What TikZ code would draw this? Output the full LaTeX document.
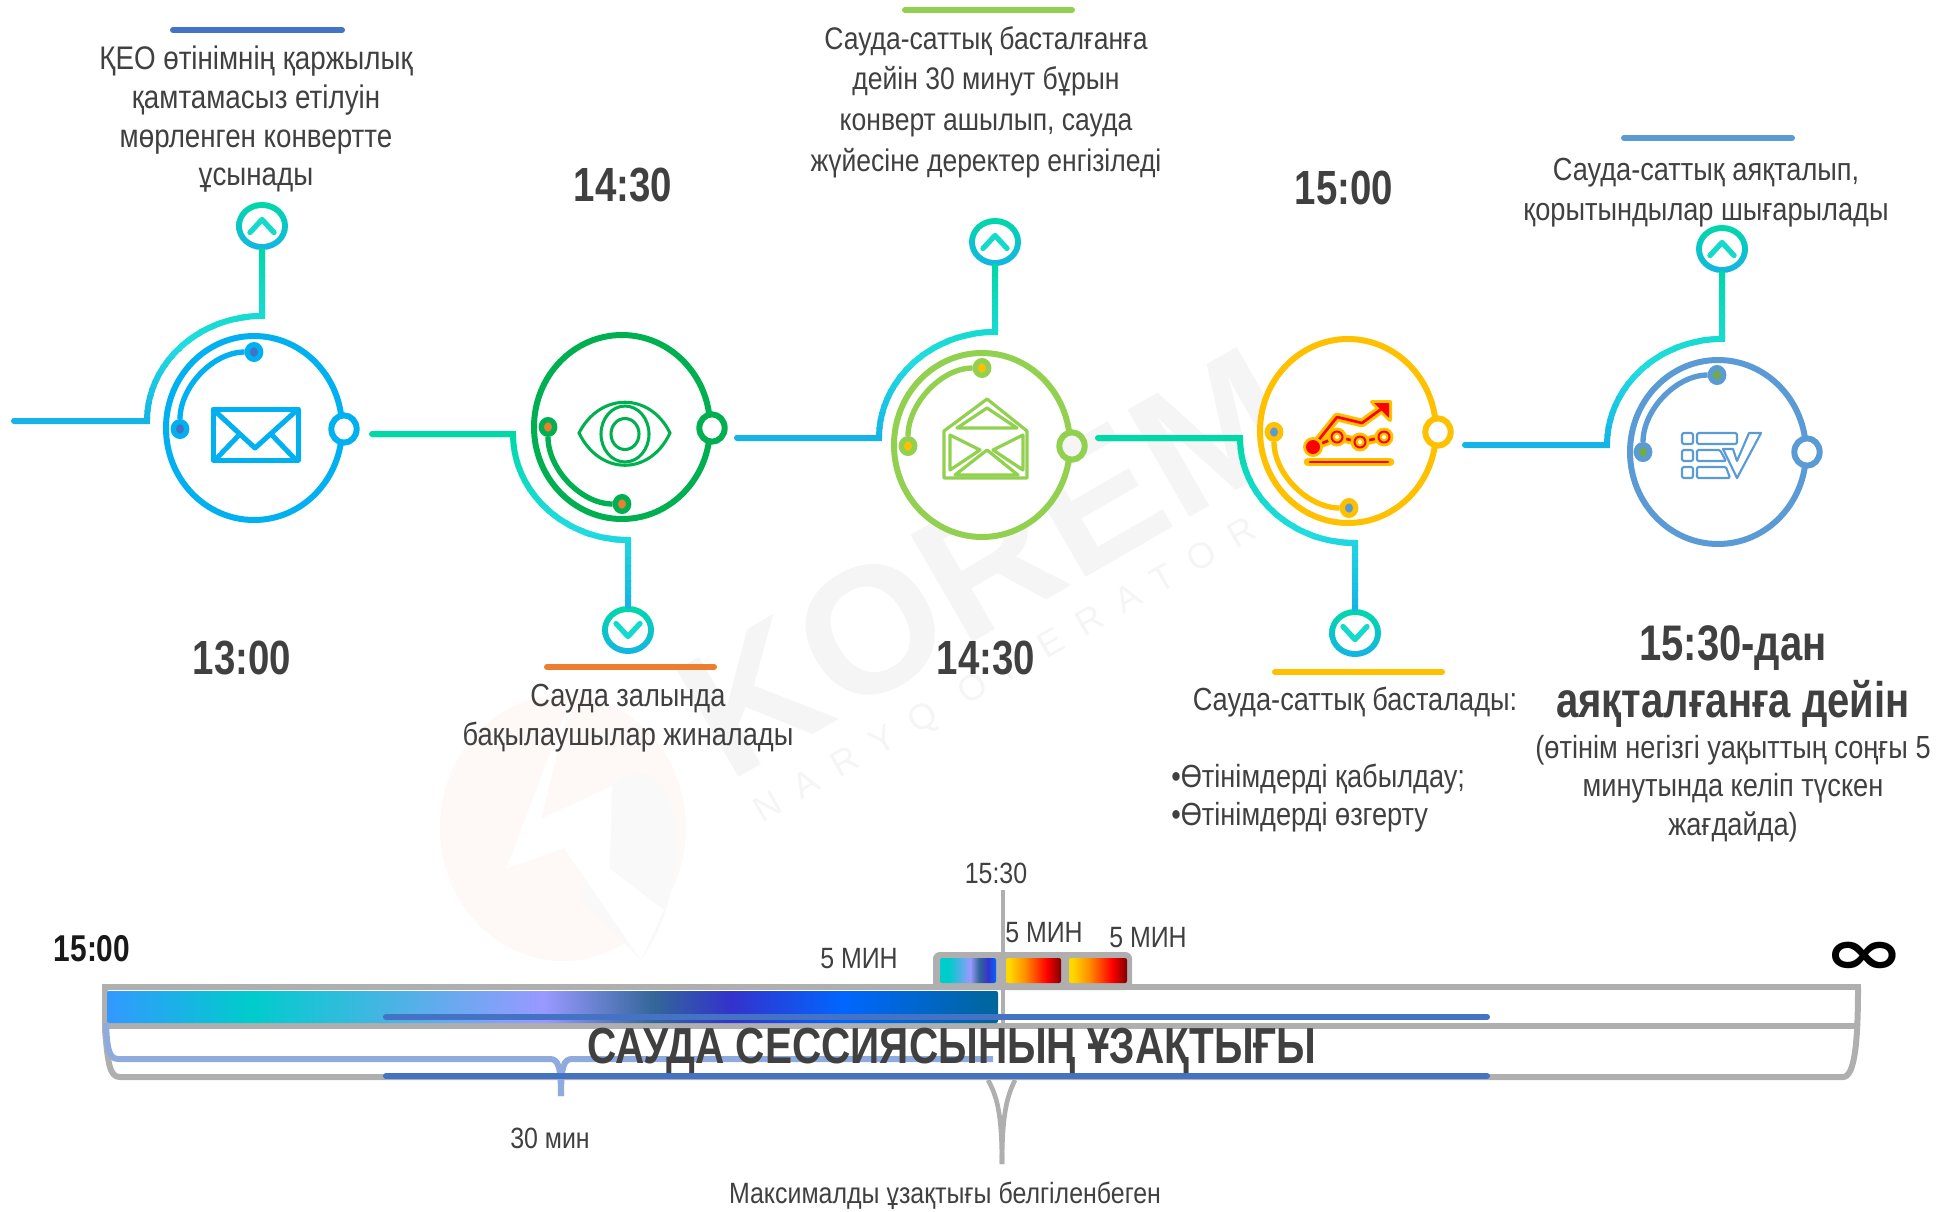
\documentclass[tikz,border=0pt]{standalone}
\usepackage{fontspec}
\setmainfont{Liberation Sans}[FakeStretch=0.85,BoldFeatures={FakeStretch=0.8}]
\newfontfamily\markfont{Liberation Sans}
\newfontfamily\symfont{DejaVu Sans}
\usetikzlibrary{shapes.geometric}

\definecolor{inktext}{HTML}{404040}
\definecolor{framegray}{HTML}{AFAFAF}
\definecolor{barblue}{HTML}{4472C4}
\definecolor{paleblue}{HTML}{8FAADC}
\definecolor{linktop}{HTML}{00D8A8}
\definecolor{linkmid}{HTML}{20DCE0}
\definecolor{linkbot}{HTML}{14B4E6}
\definecolor{markgray}{HTML}{F5F5F5}
\definecolor{logopink}{HTML}{FEF8F6}
\definecolor{logogray}{HTML}{F9F9F9}
\definecolor{ringblue}{HTML}{00B0F0}
\definecolor{ringgreen}{HTML}{00B050}
\definecolor{ringlime}{HTML}{92D050}
\definecolor{ringamber}{HTML}{FFC000}
\definecolor{ringsteel}{HTML}{5B9BD5}
\definecolor{barorange}{HTML}{ED7D31}
\definecolor{s1}{HTML}{3399FF}
\definecolor{s2}{HTML}{00CCCC}
\definecolor{s3}{HTML}{9999FF}
\definecolor{s4}{HTML}{336699}
\definecolor{s5}{HTML}{3333CC}
\definecolor{s6}{HTML}{0066FF}
\definecolor{s7}{HTML}{006699}
\definecolor{h1}{HTML}{FFD700}
\definecolor{h2}{HTML}{FF9000}
\definecolor{h3}{HTML}{FF0000}
\definecolor{h4}{HTML}{800000}

\pgfdeclarehorizontalshading{sessionshade}{100bp}{
	color(0bp)=(s1);color(25bp)=(s1);color(33.1bp)=(s2);color(49.5bp)=(s3);
	color(55.7bp)=(s4);color(60bp)=(s5);color(66.3bp)=(s6);color(75bp)=(s7);color(100bp)=(s7)}
\pgfdeclarehorizontalshading{preshade}{100bp}{
	color(0bp)=(s2);color(33bp)=(s2);color(52bp)=(s3);color(60bp)=(s4);
	color(68bp)=(s5);color(75bp)=(s6);color(100bp)=(s6)}
\pgfdeclarehorizontalshading{hotshade}{100bp}{
	color(0bp)=(h1);color(28bp)=(h1);color(42bp)=(h2);color(62bp)=(h3);color(75bp)=(h4);color(100bp)=(h4)}

\newcommand{\gradlink}[3]{%
	\foreach \k in {0,...,23} {
		\pgfmathsetmacro{\ya}{#2-4+(#3-#2+8)*\k/24}
		\pgfmathsetmacro{\yb}{#2-4+(#3-#2+8)*(\k+1)/24+1}
		\pgfmathsetmacro{\pa}{min(100,\k/23/0.55*100)}
		\pgfmathsetmacro{\pb}{100-max(0,(\k/23-0.55)/0.45*100)}
		\colorlet{slicecol}{linkmid!\pa!linktop!\pb!linkbot}
		\begin{scope}
			\clip (0,\ya) rectangle (1937,\yb);
			\draw[linkline,slicecol] #1;
		\end{scope}
	}
}

\tikzset{
	linkline/.style={line width=4.5pt,line cap=round},
	bigring/.style={ellipse,draw=#1,fill=white,line width=4.5pt,minimum width=132pt,minimum height=138pt,inner sep=0pt},
	dotmark/.style 2 args={ellipse,draw=#1,fill=#2,line width=4pt,minimum width=10pt,minimum height=11pt,inner sep=0pt},
	endring/.style 2 args={ellipse,draw=#1,fill=#2,line width=4.5pt,minimum width=19pt,minimum height=20.5pt,inner sep=0pt},
	arcline/.style={draw=#1,line width=4pt},
	chevring/.style={ellipse,inner sep=0pt,minimum width=39pt,minimum height=36pt,top color=linktop,middle color=linkmid,bottom color=linkbot},
	chevhole/.style={ellipse,inner sep=0pt,minimum width=30pt,minimum height=27pt,fill=white},
	accentbar/.style={draw=#1,line width=4.5pt,line cap=round},
	framebar/.style={draw=framegray,line width=4.5pt},
	bluebar/.style={draw=barblue,line width=4.5pt,line cap=round},
	lbl/.style={text=inktext,align=center,inner sep=0pt,font=\fontsize{24}{29}\selectfont},
	lblsmall/.style={lbl,font=\fontsize{22}{29}\selectfont},
	timebig/.style={text=inktext,align=center,inner sep=0pt,font=\fontsize{36}{43}\selectfont\bfseries},
}

\begin{document}
\begin{tikzpicture}[x=0.75pt,y=-0.75pt]
	\useasboundingbox (0,0) rectangle (1937,1211);

	\fill[logopink] (563,828) ellipse[x radius=123,y radius=133];
	\fill[logogray] (612,786) .. controls (680,730) and (700,880) .. (641,960) -- (580,900) -- cycle;
	\fill[white] (572,695) -- (506,869) -- (564,848) -- (641,960) -- (664,910) -- (610,869) -- (612,786) -- (541,819) -- cycle;
	\node[rotate=30,inner sep=0pt,text=markgray,font=\markfont\fontsize{135}{135}\selectfont\bfseries] (markmain) at (988,562) {KOREM};
	\node[rotate=30,inner sep=0pt,text=markgray,font=\markfont\fontsize{27}{27}\selectfont\addfontfeature{LetterSpace=55}] (marksub) at (1006,672) {NARYQ OPERATOR};

	\foreach \n/\cx/\cy/\s in {1/262/226/1,2/628/630/-1,3/995/242/1,4/1355/633/-1,5/1722/249/1} {
		\node[chevring] (chev\n) at (\cx,\cy) {};
		\node[chevhole] (hole\n) at (\cx,\cy) {};
		\draw[line width=4pt,line cap=round,line join=round,draw=linkmid!60!linktop] (\cx-12,\cy+6.5*\s) -- ++(12,-13*\s) -- ++(12,13*\s);
	}

	\foreach \n/\sx/\sy/\kx/\ex/\ey/\ytop/\ybot in {
		1/14/421/147/262/316/250/421,
		2/372/434/513/628/540/434/606,
		3/737/438/879/995/332/266/438,
		4/1098/438/1240/1355/543/438/609,
		5/1465/445/1607/1722/339/273/445} {
		\pgfmathsetmacro{\bx}{0.55*(\ex-\kx)}
		\pgfmathsetmacro{\by}{0.55*(\ey-\sy)}
		\coordinate (ls\n) at (\sx,\sy);
		\coordinate (lk\n) at (\kx,\sy);
		\coordinate (le\n) at (\ex,\ey);
		\gradlink{(ls\n) -- (lk\n) .. controls +(0,\by) and +(-\bx,0) .. (le\n) -- (chev\n)}{\ytop}{\ybot}
	}

	\foreach \n/\cx/\cy/\rc/\dc/\hc/\ax/\ay/\bx/\by/\s/\rx/\ry in {
		1/254/428/00B0F0/4472C4/FFFFFF/180/429/254/352/-1/344/429,
		2/622/427/00B050/ED7D31/FFFFFF/548/427/622/504/1/712/428,
		3/982/445/92D050/FFC000/F5F5F5/908/446/982/368/-1/1072/446,
		4/1348/431/FFC000/5B9BD5/FFFFFF/1274/432/1349/508/1/1438/432,
		5/1718/452/5B9BD5/70AD47/FFFFFF/1643/452/1717/375/-1/1807/452} {
		\definecolor{ringcol}{HTML}{\rc}
		\definecolor{dotcol}{HTML}{\dc}
		\definecolor{holecol}{HTML}{\hc}
		\node[bigring=ringcol] (ring\n) at (\cx,\cy) {};
		\node[dotmark={ringcol}{dotcol}] (dota\n) at (\ax,\ay) {};
		\node[dotmark={ringcol}{dotcol}] (dotb\n) at (\bx,\by) {};
		\node[endring={ringcol}{holecol}] (end\n) at (\rx,\ry) {};
		\draw[arcline=ringcol] (dota\n) .. controls +(0,\s*42) and +(-41,0) .. (dotb\n);
	}

	% envelope
	\draw[ringblue,line width=3.75pt,line join=round] (213,409) rectangle (298,460);
	\draw[ringblue,line width=3.75pt,line cap=round,line join=round] (215,411) -- (255,448) -- (296,411);
	\draw[ringblue,line width=3.75pt] (216,459) -- (241,433) (295,459) -- (270,433);

	% eye
	\draw[ringgreen,line width=2.3pt] (579,433) .. controls (600,392) and (650,392) .. (670,433) .. controls (650,476) and (600,476) .. cycle;
	\draw[ringgreen,line width=2.3pt] (625,434) ellipse[x radius=24,y radius=28];
	\draw[ringgreen,line width=2.3pt] (625,434) ellipse[x radius=14,y radius=15.5];

	% open envelope
	\begin{scope}[line width=2.4pt,line join=round]
		\draw[ringlime] (987,399) -- (944,431) -- (944,478) -- (1027,478) -- (1027,431) -- cycle;
		\draw[ringlime] (987,408) -- (957,428) -- (1017,428) -- cycle;
		\draw[ringlime] (950,435) -- (950,470) -- (980,450) -- cycle;
		\draw[ringlime] (1023,435) -- (1023,470) -- (993,450) -- cycle;
		\draw[ringlime] (987,450) -- (955,475) -- (1018,475) -- cycle;
	\end{scope}

	% chart
	\begin{scope}[line cap=round,line join=round]
		\draw[ringamber,line width=6.5pt] (1308,462) -- (1390,462);
		\draw[red,line width=2pt] (1310,462) -- (1388,462);
		\draw[ringamber,line width=6.5pt] (1313,447) -- (1337,417) -- (1362,423) -- (1384,407);
		\draw[ringamber,line width=6.5pt] (1313,447) -- (1337,437) -- (1360,442) -- (1384,437);
		\fill[ringamber,draw=ringamber,line width=3pt] (1372,402) -- (1390,402) -- (1390,420) -- cycle;
		\fill[red] (1374,403) -- (1389,403) -- (1389,418) -- cycle;
		\draw[red,line width=2pt] (1313,447) -- (1337,417) -- (1362,423) -- (1384,407);
		\draw[red,line width=2pt] (1313,447) -- (1337,437) -- (1360,442) -- (1384,437);
		\fill[ringamber] (1313,447) circle[radius=10];
		\fill[red] (1313,447) circle[radius=7];
		\foreach \px/\py in {1337/437,1360/442,1384/437} {
			\fill[ringamber] (\px,\py) circle[radius=9.5];
			\fill[red] (\px,\py) circle[radius=6.5];
			\fill[ringamber] (\px,\py) circle[radius=4.5];
			\fill[white] (\px,\py) circle[radius=2];
		}
	\end{scope}

	% checklist
	\begin{scope}[ringsteel,line width=1.6pt,line join=round]
		\foreach \yy in {433,450,467} {
			\draw[rounded corners=1.5pt] (1682,\yy) rectangle ++(11,11);
		}
		\draw[rounded corners=1.5pt] (1697,433) rectangle (1737,444);
		\draw[rounded corners=1pt] (1697,450) -- (1720,450) -- (1726,461) -- (1697,461) -- cycle;
		\draw[rounded corners=1pt] (1697,467) -- (1726,467) -- (1730,478) -- (1697,478) -- cycle;
		\draw (1723,449) -- (1733,449) -- (1737,461) -- (1749,433) -- (1761,433) -- (1737,478) -- cycle;
	\end{scope}

	\draw[accentbar=barblue] (173,30) -- (342,30);
	\draw[accentbar=barorange] (547,667) -- (714,667);
	\draw[accentbar=ringlime] (905,10) -- (1072,10);
	\draw[accentbar=ringamber] (1275,672) -- (1442,672);
	\draw[accentbar=ringsteel] (1624,138) -- (1792,138);

	\node[lbl,font=\fontsize{24.5}{29}\selectfont] (txtone) at (256,119.5) {ҚЕО өтінімнің қаржылық\\қамтамасыз етілуін\\мөрленген конвертте\\ұсынады};
	\node[lbl] (txttwo) at (628,718) {Сауда залында\\бақылаушылар жиналады};
	\node[lbl,font=\fontsize{23.4}{30.5}\selectfont] (txtthree) at (986,102) {Сауда-саттық басталғанға\\дейін 30 минут бұрын\\конверт ашылып, сауда\\жүйесіне деректер енгізіледі};
	\node[lbl] (txtfour) at (1355,702.5) {Сауда-саттық басталады:};
	\node[lbl,anchor=west,align=left] (txtfoura) at (1171,779.5) {•Өтінімдерді қабылдау;};
	\node[lbl,anchor=west,align=left] (txtfourb) at (1171,817.5) {•Өтінімдерді өзгерту};
	\node[lbl,font=\fontsize{24}{30}\selectfont] (txtfive) at (1706,193) {Сауда-саттық аяқталып,\\қорытындылар шығарылады};
	\node[lbl] (txtend) at (1733,788.5) {(өтінім негізгі уақыттың соңғы 5\\минутында келіп түскен\\жағдайда)};
	\node[timebig] (timeone) at (242,658) {13:00};
	\node[timebig] (timetwo) at (623,185) {14:30};
	\node[timebig] (timethree) at (986,658) {14:30};
	\node[timebig] (timefour) at (1344,188) {15:00};
	\node[timebig,font=\fontsize{37.5}{43}\selectfont\bfseries] (timefive) at (1733,676.5) {15:30-дан\\аяқталғанға дейін};

	% session frame
	\fill[framegray,rounded corners=5pt] (933,952) rectangle (1132,990);
	\shade[shading=preshade,rounded corners=1.5pt] (940,958) rectangle (996,983);
	\shade[shading=hotshade,rounded corners=1.5pt] (1006,958) rectangle (1061,983);
	\shade[shading=hotshade,rounded corners=1.5pt] (1069,958) rectangle (1127,983);
	\draw[framegray,line width=3pt] (1003,890) -- (1003,1026);
	\draw[framebar] (102,987) -- (1861,987);
	\draw[framebar] (102,1026) -- (1857,1026);
	\draw[framebar] (105,987) -- (105,1030) .. controls (108,1065) and (110,1077) .. (120,1077) -- (1843,1077) .. controls (1855,1077) and (1858,1040) .. (1858,987);
	\shade[shading=sessionshade,rounded corners=1.5pt] (107,991) rectangle (998,1023);
	\draw[paleblue,line width=4.5pt] (106,1023) .. controls (107,1045) and (108,1059) .. (118,1059) -- (550,1059) .. controls (558,1059) and (561,1066) .. (561,1096);
	\draw[paleblue,line width=4.5pt] (561,1096) .. controls (561,1066) and (564,1059) .. (572,1059) -- (993,1059);
	\draw[bluebar] (386,1017) -- (1487,1017);
	\draw[bluebar] (386,1076) -- (1487,1076);
	\draw[framegray,line width=3.5pt] (988,1080) .. controls (996,1095) and (1002,1110) .. (1002,1164);
	\draw[framegray,line width=3.5pt] (1015,1080) .. controls (1008,1095) and (1002,1110) .. (1002,1164);

	\node[inner sep=0pt,text=inktext,font=\fontsize{38}{38}\selectfont\bfseries] (sessiontitle) at (952,1051) {САУДА СЕССИЯСЫНЫҢ ҰЗАҚТЫҒЫ};
	\node[lbl] (startclock) at (92,949) {\fontsize{28}{28}\selectfont\bfseries\textcolor{black!90}{15:00}};
	\node[inner sep=0pt,font=\symfont\fontsize{48}{48}\selectfont\bfseries] (endless) at (1864,958) {\scalebox{1.53}[1]{∞}};
	\node[lblsmall] (tickclock) at (996,873) {15:30};
	\node[lblsmall] (minone) at (859,959) {5 МИН};
	\node[lblsmall] (mintwo) at (1044,933) {5 МИН};
	\node[lblsmall] (minthree) at (1148,938) {5 МИН};
	\node[lblsmall] (minbrace) at (550,1138) {30 мин};
	\node[lblsmall] (maxnote) at (945,1196) {Максималды ұзақтығы белгіленбеген};
\end{tikzpicture}
\end{document}
